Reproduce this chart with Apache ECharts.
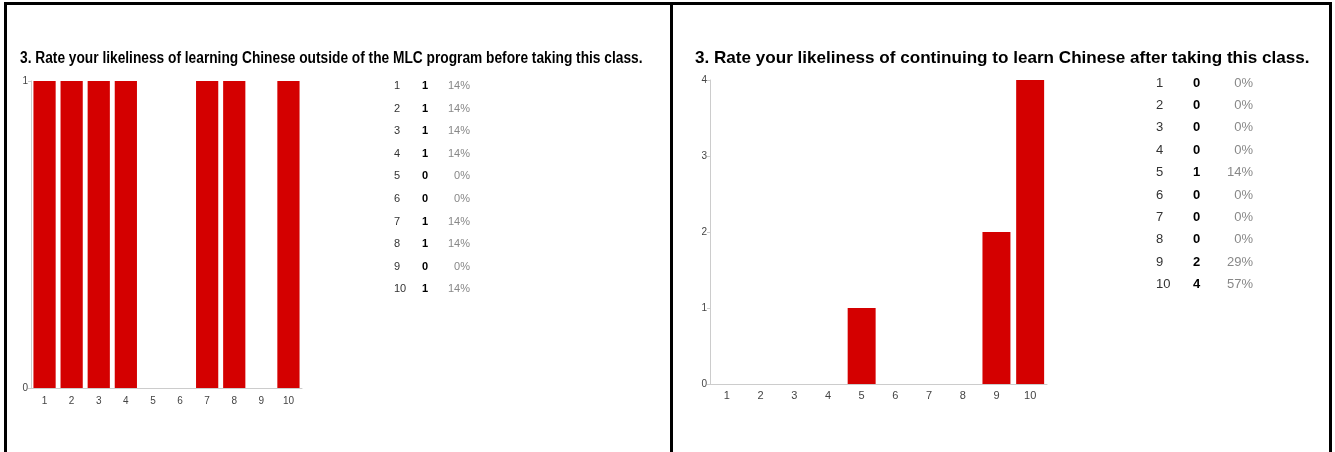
<!DOCTYPE html>
<html>
<head>
<meta charset="utf-8">
<script src="https://cdn.jsdelivr.net/npm/echarts@6/dist/echarts.min.js"></script>
<style>
html,body{margin:0;padding:0;background:#fff;}
#wrap{position:relative;width:1335px;height:452px;overflow:hidden;}
#chart{position:absolute;left:0;top:0;width:1335px;height:452px;}
.ln{position:absolute;background:#000;}
</style>
</head>
<body>
<div id="wrap">
<div id="chart"></div>
<div class="ln" style="left:4px;top:2px;width:1328px;height:3px;"></div>
<div class="ln" style="left:4px;top:2px;width:3px;height:450px;"></div>
<div class="ln" style="left:670px;top:2px;width:3px;height:450px;"></div>
<div class="ln" style="left:1329px;top:2px;width:3px;height:450px;"></div>
</div>
<script>
const categories = ['1','2','3','4','5','6','7','8','9','10'];
const beforeCounts = [1,1,1,1,0,0,1,1,0,1];
const afterCounts = [0,0,0,0,1,0,0,0,2,4];
const titleBefore = '3. Rate your likeliness of learning Chinese outside of the MLC program before taking this class.';
const titleAfter = '3. Rate your likeliness of continuing to learn Chinese after taking this class.';
const totalResponses = 7;

const BAR = '#d40000';
const FONT = '"Liberation Sans", Arial, sans-serif';
const chart = echarts.init(document.getElementById('chart'));

function tableGraphics(counts, x1, x2, x3, y0, dy, fs){
  const g = [];
  counts.forEach((c,i)=>{
    const y = y0 + i*dy;
    const pct = Math.round(c/totalResponses*100) + '%';
    g.push({type:'text', x:x1, y:y, style:{text:categories[i], font:fs+'px '+FONT, fill:'#333', textAlign:'left', textVerticalAlign:'middle'}});
    g.push({type:'text', x:x2, y:y, style:{text:String(c), font:'bold '+fs+'px '+FONT, fill:'#000', textAlign:'left', textVerticalAlign:'middle'}});
    g.push({type:'text', x:x3, y:y, style:{text:pct, font:fs+'px '+FONT, fill:'#888', textAlign:'right', textVerticalAlign:'middle'}});
  });
  return g;
}

const axisCommon = {
  axisLine:{show:true, lineStyle:{color:'#ccc', width:1}},
  axisTick:{show:false},
  splitLine:{show:false}
};

const titles = [
  {type:'text', x:20, y:59, scaleX:0.858, style:{text:titleBefore, font:'bold 16px '+FONT, fill:'#000', textAlign:'left', textVerticalAlign:'middle'}},
  {type:'text', x:695, y:58, style:{text:titleAfter, font:'bold 17.1px '+FONT, fill:'#000', textAlign:'left', textVerticalAlign:'middle'}}
];

chart.setOption({
  animation:false,
  grid:[
    {left:31, top:81, width:271, height:307},
    {left:710, top:80, width:337, height:304}
  ],
  xAxis:[
    Object.assign({type:'category', gridIndex:0, data:categories, axisLabel:{color:'#444', fontSize:10, margin:8, fontFamily:FONT}}, axisCommon),
    Object.assign({type:'category', gridIndex:1, data:categories, axisLabel:{color:'#444', fontSize:11, margin:6, fontFamily:FONT}}, axisCommon)
  ],
  yAxis:[
    {type:'value', gridIndex:0, min:0, max:1, interval:1,
     axisLine:{show:true, lineStyle:{color:'#ccc'}}, axisTick:{show:true, length:3, lineStyle:{color:'#ccc'}}, splitLine:{show:false},
     axisLabel:{color:'#444', fontSize:10, margin:3, fontFamily:FONT}},
    {type:'value', gridIndex:1, min:0, max:4, interval:1,
     axisLine:{show:true, lineStyle:{color:'#ccc'}}, axisTick:{show:true, length:3, lineStyle:{color:'#ccc'}}, splitLine:{show:false},
     axisLabel:{color:'#444', fontSize:10, margin:3, fontFamily:FONT}}
  ],
  series:[
    {type:'bar', xAxisIndex:0, yAxisIndex:0, data:beforeCounts, barCategoryGap:'18%', itemStyle:{color:BAR}},
    {type:'bar', xAxisIndex:1, yAxisIndex:1, data:afterCounts, barCategoryGap:'17%', itemStyle:{color:BAR}}
  ],
  graphic: titles
    .concat(tableGraphics(beforeCounts, 394, 422, 470, 86, 22.6, 11))
    .concat(tableGraphics(afterCounts, 1156, 1193, 1253, 83, 22.4, 13))
});
</script>
</body>
</html>
